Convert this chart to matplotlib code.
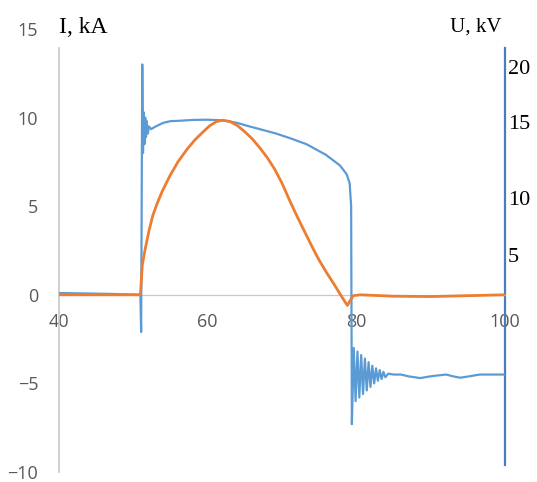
import matplotlib.pyplot as plt

# Ток (оранжевая) и напряжение (синяя) в единицах левой оси
I_T = [40, 50.95, 51.2, 51.6, 52.1, 52.6, 53.2, 53.9, 54.9, 56, 57.2, 58.3, 59.4,
       60.3, 61.2, 62.0, 63, 64, 65, 66, 67, 68, 69, 70, 71, 72, 73, 74, 75, 76,
       77, 77.8, 78.4, 78.8, 79.2, 79.6, 80.5, 85, 90, 95, 100]
I_KA = [0.0, 0.0, 1.65, 2.6, 3.6, 4.45, 5.15, 5.85, 6.7, 7.5, 8.2, 8.75, 9.2,
        9.55, 9.78, 9.85, 9.78, 9.55, 9.2, 8.8, 8.3, 7.75, 7.1, 6.3, 5.35, 4.45,
        3.6, 2.75, 1.95, 1.25, 0.6, 0.05, -0.35, -0.6, -0.3, -0.05, 0.0, -0.08,
        -0.1, -0.05, 0.0]

U_T = [40, 47, 50.95, 51.05, 51.2, 51.3, 51.4, 51.5, 51.6, 51.7, 51.8, 51.95, 52.1,
       52.4, 53, 54, 55, 56.2, 58, 60, 62, 64, 65.2, 67, 69.2, 71, 73.3, 75.9, 77.8,
       78.7, 79.1, 79.3, 79.4, 79.65, 79.9, 80.15, 80.4, 80.65, 80.9, 81.15, 81.4,
       81.65, 81.9, 82.15, 82.4, 82.65, 82.9, 83.15, 83.4, 83.65, 83.9, 84.3, 85,
       86, 87, 88.6, 90, 91, 92.1, 93, 94, 95.2, 96.6, 100]
U_VAL = [0.1, 0.05, 0.0, -2.1, 13.0, 8.0, 10.3, 8.5, 10.0, 8.9, 9.8, 9.1, 9.5,
         9.35, 9.5, 9.7, 9.8, 9.82, 9.87, 9.88, 9.85, 9.7, 9.55, 9.35, 9.1, 8.85,
         8.5, 7.9, 7.3, 6.8, 6.3, 5.0, -7.3, -3.0, -6.0, -3.2, -5.8, -3.4, -5.6,
         -3.6, -5.4, -3.8, -5.2, -4.0, -5.0, -4.15, -4.85, -4.25, -4.75, -4.35,
         -4.65, -4.45, -4.5, -4.5, -4.6, -4.7, -4.6, -4.55, -4.5, -4.6, -4.68,
         -4.6, -4.5, -4.5]

X_TICKS = [40, 60, 80, 100]
Y_TICKS = [-10, -5, 0, 5, 10, 15]
U_TICK_LABELS = ['20', '15', '10', '5']
U_TICK_POS = [12.84, 9.75, 5.45, 2.27]

GRAY_TXT = '#595959'
AXIS_GRAY = '#c8c8c8'
BLUE = '#5b9bd5'
ORANGE = '#ed7d31'

fig = plt.figure(figsize=(5.37, 4.82), dpi=100)
ax = fig.add_axes([59 / 537, 10 / 482, 446 / 537, 443 / 482])

ax.plot(U_T, U_VAL, color=BLUE, lw=1.6, zorder=3)
ax.plot(I_T, I_KA, color=ORANGE, lw=2.0, zorder=4)

ax.set_xlim(40, 100)
ax.set_ylim(-10, 15)
ax.set_xticks(X_TICKS)
ax.set_yticks(Y_TICKS)

ax.spines['top'].set_visible(False)
ax.spines['bottom'].set_position(('data', 0))
ax.spines['bottom'].set_color(AXIS_GRAY)
ax.spines['bottom'].set_linewidth(0.9)
ax.spines['left'].set_color(AXIS_GRAY)
ax.spines['left'].set_linewidth(1.2)
ax.spines['left'].set_bounds(-10, 13.9)
ax.spines['right'].set_color('#4a7ebb')
ax.spines['right'].set_linewidth(1.6)
ax.spines['right'].set_bounds(-9.6, 13.9)

ax.tick_params(axis='both', length=0, labelsize=13, labelcolor=GRAY_TXT)
ax.tick_params(axis='x', pad=13)
ax.tick_params(axis='y', pad=15)
for lab in ax.get_xticklabels() + ax.get_yticklabels():
    lab.set_fontfamily('Open Sans')

# правая ось с подписями напряжения
ax2 = ax.twinx()
ax2.set_ylim(ax.get_ylim())
for s in ax2.spines.values():
    s.set_visible(False)
ax2.set_yticks(U_TICK_POS, U_TICK_LABELS)
ax2.tick_params(axis='y', length=0, pad=2, labelsize=16, labelcolor='black')
for lab in ax2.get_yticklabels():
    lab.set_fontfamily('Liberation Serif')

fig.text(59 / 537, 1 - 33 / 482, 'I, kA', family='Liberation Serif', fontsize=17,
         ha='left', va='baseline')
fig.text(502 / 537, 1 - 32 / 482, 'U, kV', family='Liberation Serif', fontsize=15,
         ha='right', va='baseline')

fig.savefig('out.png', dpi=100)
